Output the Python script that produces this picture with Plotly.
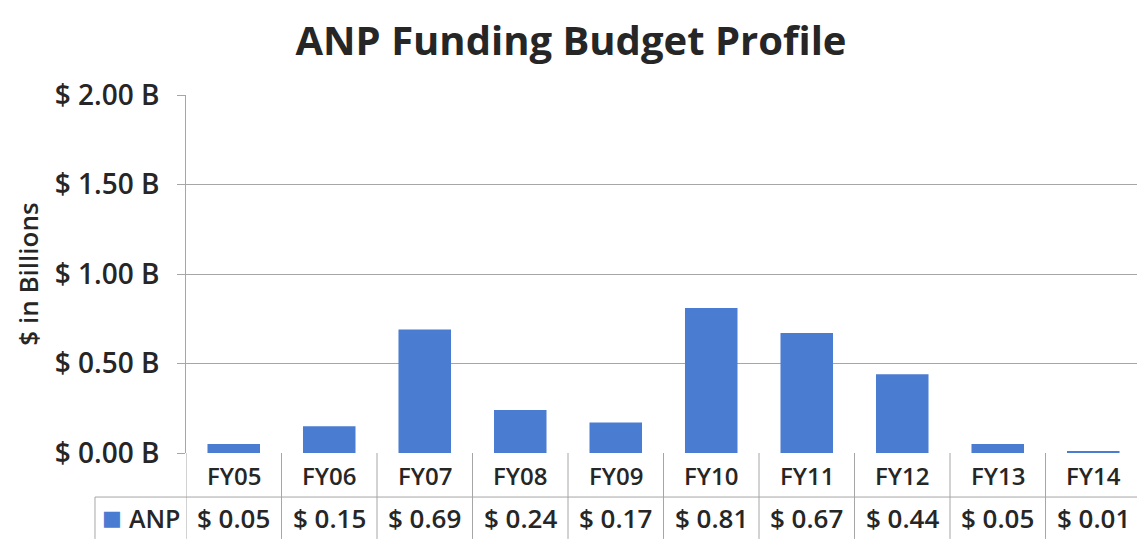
import plotly.graph_objects as go

# data
fiscal_years = ["FY05", "FY06", "FY07", "FY08", "FY09", "FY10", "FY11", "FY12", "FY13", "FY14"]
anp_funding = [0.05, 0.15, 0.69, 0.24, 0.17, 0.81, 0.67, 0.44, 0.05, 0.01]
y_ticks = [0.0, 0.5, 1.0, 1.5, 2.0]
y_tick_labels = ["$ 0.00 B", "$ 0.50 B", "$ 1.00 B", "$ 1.50 B", "$ 2.00 B"]

BAR_COLOR = "#4A7DD1"
TEXT_COLOR = "#262626"
LINE_COLOR = "#A6A6A6"
FONT = "Open Sans"
WEIGHT = 600

# page body adds an 8px offset, so the figure is 8px smaller than the window
OFFSET = 8

# table geometry in paper units (plot height 358 px)
HEADER_Y = -0.062
ROW_Y = -0.182
ROW_SPLIT = -0.123
TABLE_BOTTOM = -0.24
TABLE_LEFT = -0.0953

fig = go.Figure()

fig.add_trace(go.Bar(
    x=list(range(len(fiscal_years))),
    y=anp_funding,
    name="ANP",
    marker=dict(color=BAR_COLOR, line=dict(width=0)),
    width=0.55,
    showlegend=False,
))

annotations = []
shapes = []

# data table: header row and value row
for i, (fy, val) in enumerate(zip(fiscal_years, anp_funding)):
    annotations.append(dict(
        x=i, y=HEADER_Y, xref="x", yref="paper", text=fy,
        showarrow=False,
        font=dict(size=24, color=TEXT_COLOR, family=FONT, weight=WEIGHT),
        xanchor="center", yanchor="middle",
    ))
    annotations.append(dict(
        x=i, y=ROW_Y, xref="x", yref="paper", text="$ %.2f" % val,
        showarrow=False,
        font=dict(size=26, color=TEXT_COLOR, family=FONT, weight=WEIGHT),
        xanchor="center", yanchor="middle",
    ))

n = len(fiscal_years)
for i in range(n + 1):
    shapes.append(dict(
        type="line", xref="x", yref="paper", x0=i - 0.5, x1=i - 0.5,
        y0=0, y1=TABLE_BOTTOM, line=dict(color=LINE_COLOR, width=1),
    ))
# horizontal split between header and values, extends under legend key
shapes.append(dict(
    type="line", xref="paper", yref="paper", x0=TABLE_LEFT, x1=1,
    y0=ROW_SPLIT, y1=ROW_SPLIT, line=dict(color=LINE_COLOR, width=1),
))
shapes.append(dict(
    type="line", xref="paper", yref="paper", x0=TABLE_LEFT, x1=TABLE_LEFT,
    y0=ROW_SPLIT, y1=TABLE_BOTTOM, line=dict(color=LINE_COLOR, width=1),
))

# legend key in the table
annotations.append(dict(
    x=TABLE_LEFT + 0.005, y=ROW_Y, xref="paper", yref="paper",
    text="■", showarrow=False,
    font=dict(size=21, color=BAR_COLOR, family="DejaVu Sans"),
    xanchor="left", yanchor="middle",
))
annotations.append(dict(
    x=-0.062, y=ROW_Y, xref="paper", yref="paper",
    text="ANP", showarrow=False,
    font=dict(size=25, color=TEXT_COLOR, family=FONT, weight=WEIGHT),
    xanchor="left", yanchor="middle",
))

fig.update_layout(
    width=1145 - OFFSET,
    height=539 - OFFSET,
    margin=dict(l=186 - OFFSET, r=4, t=95 - OFFSET, b=86),
    paper_bgcolor="white",
    plot_bgcolor="white",
    title=dict(
        text="<b>ANP Funding Budget Profile</b>",
        x=(571 - OFFSET) / (1145 - OFFSET), xanchor="center",
        y=1 - (41 - OFFSET) / (539 - OFFSET), yanchor="middle",
        font=dict(size=40, color=TEXT_COLOR, family=FONT),
    ),
    xaxis=dict(
        range=[-0.5, n - 0.5],
        showticklabels=False,
        showgrid=False,
        zeroline=False,
        showline=False,
    ),
    yaxis=dict(
        range=[0, 2.0],
        tickvals=y_ticks,
        ticktext=y_tick_labels,
        tickfont=dict(size=28, color=TEXT_COLOR, family=FONT, weight=WEIGHT),
        ticks="outside",
        ticklen=8,
        tickcolor=LINE_COLOR,
        ticklabelstandoff=12,
        showgrid=True,
        gridcolor=LINE_COLOR,
        gridwidth=1,
        zeroline=False,
        showline=True,
        linecolor=LINE_COLOR,
        title=dict(
            text="$ in Billions",
            font=dict(size=26, color=TEXT_COLOR, family=FONT, weight=WEIGHT),
            standoff=8,
        ),
    ),
    annotations=annotations,
    shapes=shapes,
)

fig.write_html("out.html")
